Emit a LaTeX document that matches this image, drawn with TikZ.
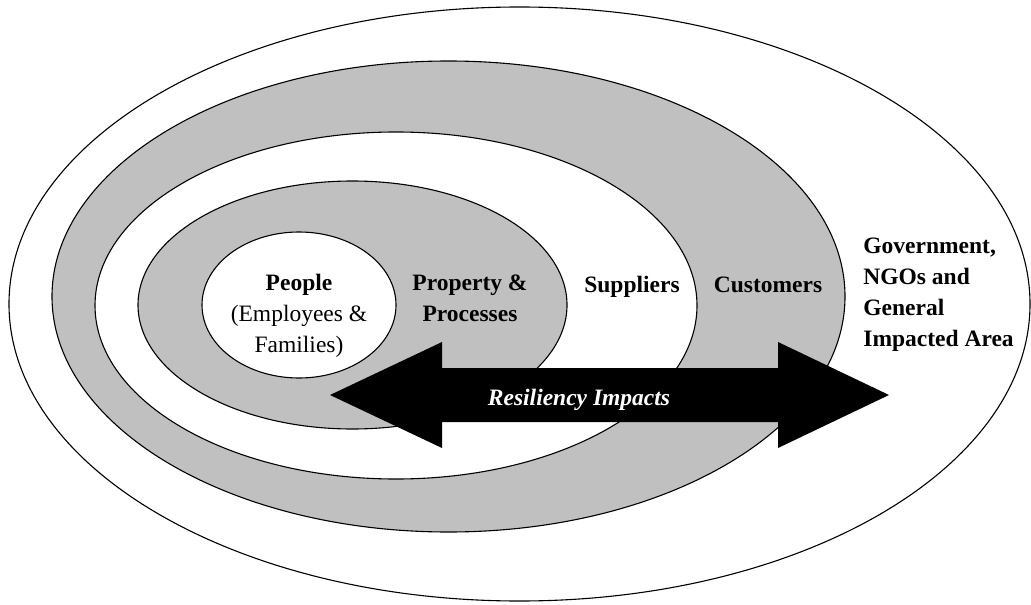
\documentclass[tikz,border=0pt]{standalone}
\usepackage{fontspec}
\setmainfont{Liberation Serif}
\usetikzlibrary{shapes.geometric}
\definecolor{ringgray}{RGB}{192,192,192}
\pgfdeclarelayer{bg}
\pgfsetlayers{bg,main}

\begin{document}
\begin{tikzpicture}[x=0.5pt, y=-0.5pt,
    ring/.style={ellipse, draw=black, line width=0.55pt, inner sep=0pt},
    lbl/.style={inner sep=0pt, font=\fontsize{11.75}{15.5}\selectfont\bfseries}]
    \useasboundingbox (0, 0) rectangle (1031, 604);

    \begin{pgfonlayer}{bg}
        \node (area) [ring, fill=white, minimum width=510.5pt, minimum height=297pt] at (519.5, 304) {};
        \node (customers) [ring, fill=ringgray, minimum width=396.5pt, minimum height=235.5pt] at (448.5, 296.5) {};
        \node (suppliers) [ring, fill=white, minimum width=301pt, minimum height=173.5pt] at (396, 305.5) {};
        \node (property) [ring, fill=ringgray, minimum width=214.5pt, minimum height=124pt] at (352.5, 305) {};
        \node (people) [ring, fill=white, minimum width=97pt, minimum height=73pt] at (299, 305) {};
        \fill (330, 395) -- (442, 342) -- (442, 368) -- (778, 368) -- (778, 342) -- (889, 395)
            -- (778, 448) -- (778, 422) -- (442, 422) -- (442, 448) -- cycle;
    \end{pgfonlayer}

    \node (peoplelbl) [lbl, align=center] at (299, 316) {People\\{\mdseries (Employees \&}\\{\mdseries Families)}};
    \node (propertylbl) [lbl, align=center] at (470, 298) {Property \&\\Processes};
    \node (supplierslbl) [lbl, anchor=base] at (632, 292) {Suppliers};
    \node (customerslbl) [lbl, anchor=base] at (768, 292) {Customers};
    \node (arealbl) [lbl, align=left, anchor=west] at (863, 295) {Government,\\NGOs and\\General\\Impacted Area};
    \node (impacts) [lbl, text=white, font=\fontsize{11.75}{15.5}\selectfont\bfseries\itshape, anchor=base] at (579, 405) {Resiliency Impacts};
\end{tikzpicture}
\end{document}
